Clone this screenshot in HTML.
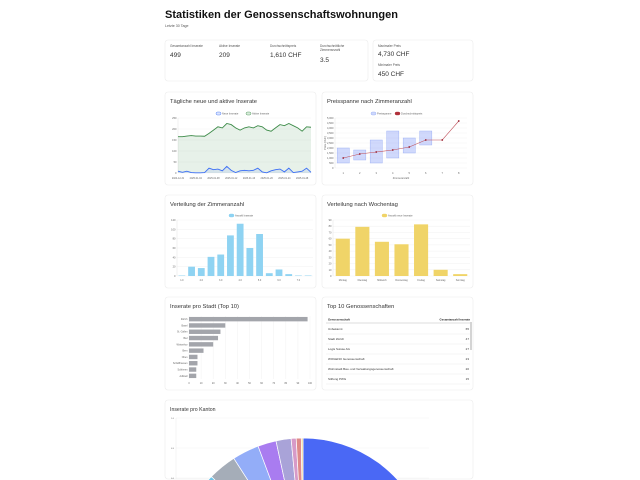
<!DOCTYPE html>
<html><head><meta charset="utf-8"><style>
html,body{margin:0;padding:0;background:#fff;width:640px;height:480px;overflow:hidden;font-family:"Liberation Sans",sans-serif}
svg{position:absolute;left:0;top:0}
</style></head><body>
<svg id="s" width="640" height="480" viewBox="0 0 640 480" font-family="Liberation Sans, sans-serif"></svg>
<script>
// ---- data ----
const lineLabels=["2024-12-31","2025-01-04","2025-01-08","2025-01-12","2025-01-16","2025-01-20","2025-01-24","2025-01-28"];
const activeVals=[165,165,168,170,168,168,167,180,195,210,205,225,220,205,195,205,210,205,215,210,195,190,205,220,215,225,215,205,190,210,208];
const newVals=[8,3,8,2,1,1,2,22,15,18,10,30,12,2,10,12,10,12,22,5,1,10,15,18,5,22,2,5,8,22,3];
const lineTicks=[0,50,100,150,200,250];
const roomCats=[1,2,3,4,5,6,7,8];
const priceMin=[500,800,500,1000,1500,2300,null,null];
const priceMax=[2000,1800,2800,3700,3000,3700,null,null];
const priceAvg=[1000,1400,1600,1800,2100,2800,2800,4700];
const priceTicks=[0,500,1000,1500,2000,2500,3000,3500,4000,4500,5000];
const histCats=["1.0","1.5","2.0","2.5","3.0","3.5","4.0","4.5","5.0","5.5","6.0","6.5","7.0","7.5"];
const histVals=[1,20,17,41,46,87,112,60,90,6,14,4,1,1];
const histTicks=[0,20,40,60,80,100,120];
const dayCats=["Montag","Dienstag","Mittwoch","Donnerstag","Freitag","Samstag","Sonntag"];
const dayVals=[60,79,55,51,83,10,3];
const dayTicks=[0,10,20,30,40,50,60,70,80,90];
const cityCats=["Zürich","Basel","St. Gallen","Biel","Winterthur","Bern","Olten","Schaffhausen","Schlieren","Adliswil"];
const cityVals=[98,30,26,24,20,12,7,7,6,6];
const cityTicks=[0,10,20,30,40,50,60,70,80,90,100];
const coopNames=["Unbekannt","Stadt Zürich","Logis Suisse AG","WOGENO Genossenschaft","Wohnstadt Bau- und Verwaltungsgenossenschaft","Stiftung PWG"];
const coopVals=[65,47,27,23,20,15];
const cantonVals=[190,70,40,35,25,20,15,18,17,16,11,9,3,3,1];
const cantonColors=["#4a68f5","#f59e42","#ef5b5b","#f5c542","#9ccc65","#26a69a","#5cc18a","#6cc3e8","#a5adb8","#93adf8","#a97cf0","#a9a3d8","#d79ac8","#df8a8a","#f1d28a"];

const S=document.getElementById('s');const NS="http://www.w3.org/2000/svg";
function el(t,a,p){const e=document.createElementNS(NS,t);for(const k in a)e.setAttribute(k,a[k]);(p||S).appendChild(e);return e;}
function tx(x,y,s,size,opt){opt=opt||{};const e=el('text',{x:x,y:y,'font-size':size,fill:opt.fill||'#666','text-anchor':opt.anchor||'start','font-weight':opt.bold?'bold':'normal'});e.textContent=s;return e;}
function card(x,y,w,h,name){const r=el('rect',{x:x,y:y,width:w,height:h,rx:3,fill:'#fff',stroke:'#ececec','stroke-width':0.6});

return r;}

// title
let t=tx(165,18,"Statistiken der Genossenschaftswohnungen",11,{fill:'#111',bold:true});
t.setAttribute('textLength','233');


t=tx(165,27,"Letzte 30 Tage",3.6,{fill:'#555'});



// stats
card(165,40,203,41,'stats-card');card(373,40,100,41,'price-stats-card');
const stats=[["Gesamtanzahl Inserate","499",170],["Aktive Inserate","209",219],["Durchschnittspreis","1,610 CHF",270]];
stats.forEach(s=>{let a=tx(s[2],47,s[0],3.2,{fill:'#555'});

let b=tx(s[2],57,s[1],6.5,{fill:'#333'});
});
tx(320,47,"Durchschnittliche",3.2,{fill:'#555'});tx(320,51,"Zimmeranzahl",3.2,{fill:'#555'});
let sv=tx(320,62,"3.5",6.5,{fill:'#333'});

tx(378,47,"Maximaler Preis",3.2,{fill:'#555'});
sv=tx(378,56,"4,730 CHF",6.5,{fill:'#333'});

tx(378,66,"Minimaler Preis",3.2,{fill:'#555'});
sv=tx(378,76,"450 CHF",6.5,{fill:'#333'});


function yAxis(ticks,x0,x1,ytop,ybot,maxV){const sc=v=>ybot-(v/maxV)*(ybot-ytop);
ticks.forEach(v=>{el('line',{x1:x0,x2:x1,y1:sc(v),y2:sc(v),stroke:'#eee','stroke-width':0.4});tx(x0-1.5,sc(v)+1,String(v.toLocaleString('en-US')),2.6,{anchor:'end'});});
el('line',{x1:x0,x2:x0,y1:ytop,y2:ybot,stroke:'#ddd','stroke-width':0.4});return sc;}
function legend(cx,y,color,label,fillc){const g=el('g',{});

el('rect',{x:cx,y:y-2,width:5,height:3,rx:1.5,fill:fillc||color,stroke:color,'stroke-width':0.4},g);
const e=el('text',{x:cx+6,y:y+0.7,'font-size':2.6,fill:'#666'},g);e.textContent=label;}

// ---- line chart ----
card(165,92,151,93,'daily-listings-card');
tx(170,103,"Tägliche neue und aktive Inserate",5.8,{fill:'#333'});
legend(216,114,'#3b6ef5','Neue Inserate','#dbe4fd');legend(246,114,'#3d8b49','Aktive Inserate','#d8ebdb');
{const x0=178,x1=311,yt=118,yb=173;const sc=yAxis(lineTicks,x0,x1,yt,yb,250);
const n=activeVals.length;const xs=i=>x0+i*(x1-x0)/(n-1);
const pts=a=>a.map((v,i)=>xs(i).toFixed(2)+","+sc(v).toFixed(2)).join(" ");
let a=el('polygon',{points:xs(0)+","+yb+" "+pts(activeVals)+" "+xs(n-1)+","+yb,fill:'rgba(61,139,73,0.12)'});


a=el('polyline',{points:pts(activeVals),fill:'none',stroke:'#3d8b49','stroke-width':0.9});


a=el('polygon',{points:xs(0)+","+yb+" "+pts(newVals)+" "+xs(n-1)+","+yb,fill:'rgba(59,110,245,0.1)'});


a=el('polyline',{points:pts(newVals),fill:'none',stroke:'#3b6ef5','stroke-width':0.9});


lineLabels.forEach((l,i)=>tx(xs(i*4),179,l,2.4,{anchor:'middle'}));}

// ---- price range ----
card(322,92,151,93,'price-range-card');
tx(327,103,"Preisspanne nach Zimmeranzahl",5.8,{fill:'#333'});
legend(371,114,'#93a9f5','Preisspanne','#cdd8fc');legend(395,114,'#b0303a','Durchschnittspreis','#b0303a');
{const x0=335,x1=467,yt=118,yb=168;const sc=yAxis(priceTicks,x0,x1,yt,yb,5000);
const bw=(x1-x0)/roomCats.length;const xc=i=>x0+bw*(i+0.5);
roomCats.forEach((c,i)=>{tx(xc(i),174,String(c),2.6,{anchor:'middle'});
if(priceMin[i]!=null){const r=el('rect',{x:xc(i)-bw*0.37,y:sc(priceMax[i]),width:bw*0.74,height:sc(priceMin[i])-sc(priceMax[i]),fill:'rgba(100,130,245,0.3)',stroke:'#93a9f5','stroke-width':0.4});

}});
const p=el('polyline',{points:priceAvg.map((v,i)=>xc(i)+","+sc(v)).join(" "),fill:'none',stroke:'#c0505a','stroke-width':0.6});


priceAvg.forEach((v,i)=>{const c=el('circle',{cx:xc(i),cy:sc(v),r:0.9,fill:'#9a2030'});

});
tx(401,179,"Zimmeranzahl",2.6,{anchor:'middle'});
const yl=tx(326,143,"Preis (CHF)",2.6,{anchor:'middle'});yl.setAttribute('transform','rotate(-90 326 143)');}

// ---- histogram ----
card(165,195,151,93,'room-distribution-card');
tx(170,206,"Verteilung der Zimmeranzahl",5.8,{fill:'#333'});
legend(229,216,'#7fcdf0','Anzahl Inserate','#8fd3f2');
{const x0=177,x1=313,yt=220,yb=276;const sc=yAxis(histTicks,x0,x1,yt,yb,120);
const bw=(x1-x0)/histCats.length;
histVals.forEach((v,i)=>{const r=el('rect',{x:x0+bw*i+bw*0.15,y:sc(v),width:bw*0.7,height:yb-sc(v),fill:'#8fd3f2'});


if(i%2==0)tx(x0+bw*(i+0.5),281,histCats[i],2.4,{anchor:'middle'});});}

// ---- weekday ----
card(322,195,151,93,'weekday-card');
tx(327,206,"Verteilung nach Wochentag",5.8,{fill:'#333'});
legend(382,216,'#f0d060','Anzahl neue Inserate','#f0d468');
{const x0=333,x1=470,yt=220,yb=276;const sc=yAxis(dayTicks,x0,x1,yt,yb,90);
const bw=(x1-x0)/dayCats.length;
dayVals.forEach((v,i)=>{const r=el('rect',{x:x0+bw*i+bw*0.14,y:sc(v),width:bw*0.72,height:yb-sc(v),fill:'#f0d468'});


tx(x0+bw*(i+0.5),281,dayCats[i],2.4,{anchor:'middle'});});}

// ---- city ----
card(165,297,151,93,'city-card');
tx(170,308,"Inserate pro Stadt (Top 10)",5.8,{fill:'#333'});
{const x0=189,x1=310,yt=316,yb=379;const sx=v=>x0+v/100*(x1-x0);
cityTicks.forEach(v=>{el('line',{x1:sx(v),x2:sx(v),y1:yt,y2:yb,stroke:'#eee','stroke-width':0.4});tx(sx(v),384,String(v),2.4,{anchor:'middle'});});
const bh=(yb-yt)/cityCats.length;
cityVals.forEach((v,i)=>{const r=el('rect',{x:x0,y:yt+bh*i+bh*0.15,width:sx(v)-x0,height:bh*0.7,fill:'#a3a5ab'});


tx(x0-1.5,yt+bh*(i+0.5)+0.9,cityCats[i],2.4,{anchor:'end'});});}

// ---- table ----
card(322,297,151,93,'top-coops-card');
tx(327,308,"Top 10 Genossenschaften",5.8,{fill:'#333'});
tx(328,320.5,"Genossenschaft",2.8,{fill:'#222',bold:true});tx(470,320.5,"Gesamtanzahl Inserate",2.8,{fill:'#222',anchor:'end',bold:true});
el('line',{x1:326,x2:470,y1:323,y2:323,stroke:'#bbb','stroke-width':0.5});
coopNames.forEach((n,i)=>{const y=330+i*10;const r=tx(328,y,n,3,{fill:'#333'});


tx(469,y,String(coopVals[i]),3,{fill:'#333',anchor:'end'});
el('line',{x1:326,x2:470,y1:y+4,y2:y+4,stroke:'#e6e6e6','stroke-width':0.4});});
el('rect',{x:470.5,y:322,width:1,height:28,fill:'#aaa'});

// ---- canton pie ----
card(165,400,308,79,'canton-card');
tx(170,411,"Inserate pro Kanton",5.2,{fill:'#333'});
[[418,"1.0"],[448,"0.5"],[478,"0.0"]].forEach(a=>{el('line',{x1:176,x2:429,y1:a[0],y2:a[0],stroke:'#eee','stroke-width':0.4});tx(174,a[0]+1,a[1],2.2,{anchor:'end'});});
el('line',{x1:176,x2:176,y1:418,y2:479,stroke:'#e5e5e5','stroke-width':0.4});
{const cx=303,cy=566,R=128;const tot=cantonVals.reduce((a,b)=>a+b,0);let ang=0;
cantonVals.forEach((v,i)=>{const a0=ang,a1=ang+v/tot*2*Math.PI;ang=a1;
const p=(a)=>(cx+R*Math.sin(a)).toFixed(2)+","+(cy-R*Math.cos(a)).toFixed(2);
const d="M"+cx+","+cy+" L"+p(a0)+" A"+R+","+R+" 0 "+((a1-a0)>Math.PI?1:0)+" 1 "+p(a1)+" Z";
const s=el('path',{d:d,fill:cantonColors[i],stroke:'#fff','stroke-width':0.7});

});}
</script>
</body></html>
